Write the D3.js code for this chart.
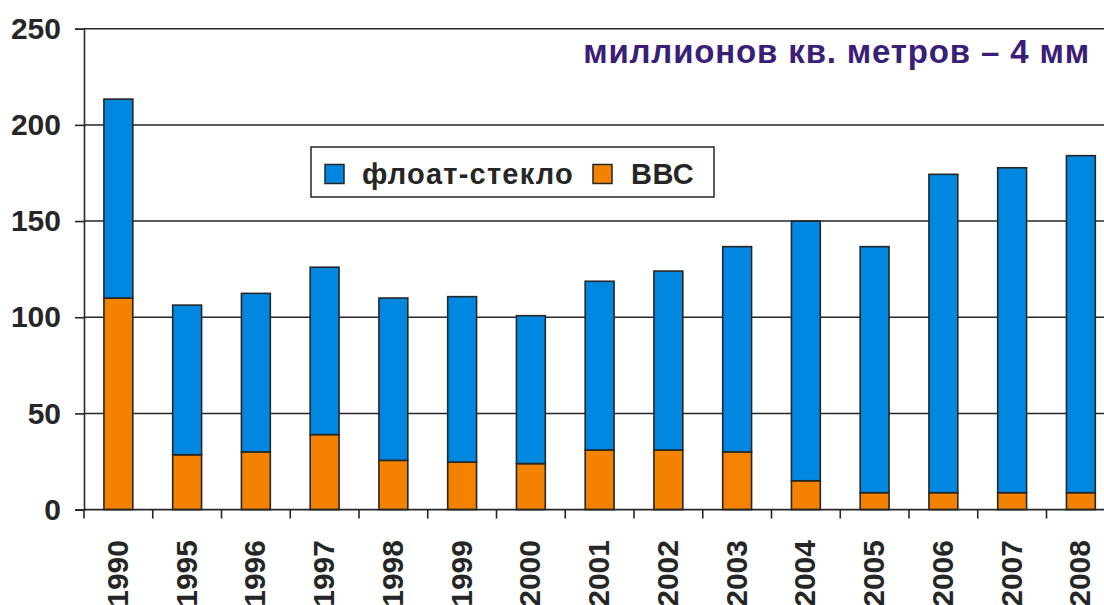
<!DOCTYPE html>
<html>
<head>
<meta charset="utf-8">
<script src="https://cdn.jsdelivr.net/npm/d3@7"></script>
<style>
  body { margin: 0; background: #fff; }
  text { font-family: "Liberation Sans", Arial, sans-serif; font-weight: bold; }
</style>
</head>
<body>
<div id="chart"></div>
<script>
// Data
var years = ['1990', '1995', '1996', '1997', '1998', '1999', '2000', '2001',
             '2002', '2003', '2004', '2005', '2006', '2007', '2008'];
var vvs = [110, 28.5, 30, 39, 25.6, 24.7, 23.9, 31, 31, 30, 15, 8.8, 8.8, 8.8, 8.8];
var floatGlass = [103.4, 77.8, 82.4, 87, 84.4, 86, 76.9, 87.7, 93, 106.7, 135, 127.9, 165.5, 168.9, 175.2];
var yTicks = [0, 50, 100, 150, 200, 250];
var seriesNames = ['флоат-стекло', 'ВВС'];
var title = 'миллионов кв. метров – 4 мм';

// Layout
var width = 1104, height = 605;
var margin = {top: 28.7, left: 84};
var plotH = 509.6 - margin.top;
var bandW = 68.75;

var colors = {'ВВС': '#f28200', 'флоат-стекло': '#0088e0'};
var ink = '#262626';

var svg = d3.select('#chart').append('svg')
    .attr('width', width)
    .attr('height', height);

var x = d3.scaleBand()
    .domain(years)
    .range([margin.left, margin.left + bandW * years.length])
    .paddingInner(0.58)
    .paddingOuter(0.29);

var y = d3.scaleLinear()
    .domain([0, 250])
    .range([margin.top + plotH, margin.top]);

// gridlines
svg.append('g')
    .selectAll('line')
    .data(yTicks.filter(d => d > 0))
    .join('line')
    .attr('x1', margin.left)
    .attr('x2', width + 20)
    .attr('y1', d => y(d))
    .attr('y2', d => y(d))
    .attr('stroke', ink)
    .attr('stroke-width', 1.5);

// stacked bars
var rows = years.map((yr, i) => ({year: yr, 'ВВС': vvs[i], 'флоат-стекло': floatGlass[i]}));
var stacked = d3.stack().keys(['ВВС', 'флоат-стекло'])(rows);

svg.append('g')
    .selectAll('g')
    .data(stacked)
    .join('g')
    .attr('fill', d => colors[d.key])
    .selectAll('rect')
    .data(d => d)
    .join('rect')
    .attr('x', d => x(d.data.year))
    .attr('width', x.bandwidth())
    .attr('y', d => y(d[1]))
    .attr('height', d => y(d[0]) - y(d[1]))
    .attr('stroke', ink)
    .attr('stroke-width', 1.6);

// y axis
var yAxis = d3.axisLeft(y)
    .tickValues(yTicks)
    .tickSize(9)
    .tickPadding(14);
var gy = svg.append('g')
    .attr('transform', `translate(${margin.left},0)`)
    .call(yAxis);
gy.select('.domain').attr('stroke', ink).attr('stroke-width', 1.6);
gy.selectAll('.tick line').attr('stroke', ink).attr('stroke-width', 1.6);
gy.selectAll('.tick text')
    .attr('fill', ink)
    .attr('font-size', '30px')
    .attr('font-family', '"Liberation Sans", Arial, sans-serif')
    .attr('font-weight', 'bold');

// x axis: baseline, ticks between categories, rotated labels
var y0 = y(0);
svg.append('line')
    .attr('x1', margin.left).attr('x2', width + 20)
    .attr('y1', y0).attr('y2', y0)
    .attr('stroke', ink).attr('stroke-width', 1.6);

var edges = years.map(d => x(d) - x.step() * x.paddingInner() / 2);
svg.append('g')
    .selectAll('line')
    .data(edges)
    .join('line')
    .attr('x1', d => d).attr('x2', d => d)
    .attr('y1', y0).attr('y2', y0 + 9)
    .attr('stroke', ink).attr('stroke-width', 1.6);

// labels run off the bottom edge, as in the original
svg.append('g')
    .selectAll('text')
    .data(years)
    .join('text')
    .attr('transform', d => `translate(${x(d) + x.bandwidth() / 2 - 1},540) rotate(-90)`)
    .attr('text-anchor', 'end')
    .attr('dy', '0.35em')
    .attr('font-size', '30px')
    .attr('fill', ink)
    .text(d => d);

// title
svg.append('text')
    .attr('x', 1090)
    .attr('y', 63)
    .attr('text-anchor', 'end')
    .attr('font-size', '33px')
    .attr('letter-spacing', '0.85px')
    .attr('fill', '#3b1e78')
    .text(title);

// legend
var legend = svg.append('g');
legend.append('rect')
    .attr('x', 311).attr('y', 147)
    .attr('width', 403).attr('height', 50)
    .attr('fill', '#fff')
    .attr('stroke', ink).attr('stroke-width', 1.5);

var legendPos = [{sx: 325, tx: 362}, {sx: 593, tx: 631}];
seriesNames.forEach((name, i) => {
    legend.append('rect')
        .attr('x', legendPos[i].sx).attr('y', 164.5)
        .attr('width', 19).attr('height', 19)
        .attr('fill', colors[name])
        .attr('stroke', ink).attr('stroke-width', 1.5);
    legend.append('text')
        .attr('x', legendPos[i].tx).attr('y', 184)
        .attr('font-size', '29px')
        .attr('letter-spacing', i === 0 ? '1.2px' : '0.5px')
        .attr('fill', ink)
        .text(name);
});
</script>
</body>
</html>
